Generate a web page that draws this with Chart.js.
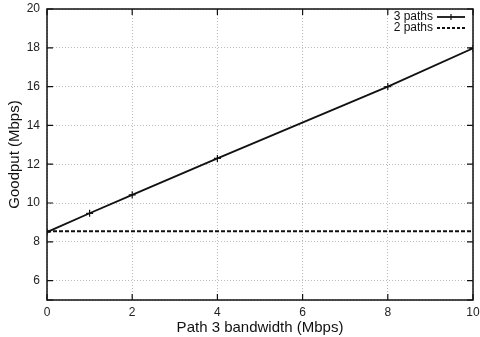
<!DOCTYPE html>
<html>
<head>
<meta charset="utf-8">
<script src="https://cdn.jsdelivr.net/npm/chart.js@4/dist/chart.umd.min.js"></script>
<style>
  html, body { margin: 0; padding: 0; background: #fff; }
  #wrap { width: 480px; height: 337px; }
</style>
</head>
<body>
<div id="wrap"><canvas id="goodput"></canvas></div>
<script>
// data
var bandwidth = [0, 1, 2, 4, 8, 10];
var threePaths = [8.5, 9.47, 10.42, 12.3, 16.0, 17.97];
var twoPathsX = [0, 10];
var twoPaths = [8.55, 8.55];
var xTicks = [0, 2, 4, 6, 8, 10];
var yTicks = [5, 6, 8, 10, 12, 14, 16, 18, 20];

var FONT = "'Liberation Sans', Arial, sans-serif";

// gnuplot style frame, inside tick marks and legend box
var framePlugin = {
  id: 'frame',
  afterDraw: function(chart) {
    var ctx = chart.ctx;
    var a = chart.chartArea;
    var xs = chart.scales.x, ys = chart.scales.y;
    ctx.save();
    ctx.strokeStyle = '#111';
    ctx.lineWidth = 1.5;
    ctx.strokeRect(a.left, a.top, a.right - a.left, a.bottom - a.top);
    ctx.lineWidth = 1.2;
    ctx.beginPath();
    xTicks.forEach(function(v) {
      var px = xs.getPixelForValue(v);
      ctx.moveTo(px, a.bottom); ctx.lineTo(px, a.bottom - 6);
      ctx.moveTo(px, a.top); ctx.lineTo(px, a.top + 6);
    });
    yTicks.forEach(function(v) {
      var py = ys.getPixelForValue(v);
      ctx.moveTo(a.left, py); ctx.lineTo(a.left + 6, py);
      ctx.moveTo(a.right, py); ctx.lineTo(a.right - 6, py);
    });
    ctx.stroke();

    // legend
    ctx.font = '12px ' + FONT;
    ctx.fillStyle = '#111';
    ctx.textAlign = 'right';
    ctx.textBaseline = 'middle';
    var items = [
      { label: '3 paths', y: 17, dash: [], mark: true },
      { label: '2 paths', y: 28, dash: [3, 2], mark: false }
    ];
    items.forEach(function(it) {
      ctx.fillText(it.label, 433, it.y);
      ctx.setLineDash(it.dash);
      ctx.lineWidth = 1.8;
      ctx.beginPath();
      ctx.moveTo(437, it.y); ctx.lineTo(465, it.y);
      ctx.stroke();
      ctx.setLineDash([]);
      if (it.mark) {
        ctx.lineWidth = 1.2;
        ctx.beginPath();
        ctx.moveTo(451, it.y - 3); ctx.lineTo(451, it.y + 3);
        ctx.stroke();
      }
    });
    ctx.restore();
  }
};

var chart = new Chart(document.getElementById('goodput'), {
  type: 'line',
  data: {
    datasets: [
      {
        label: '3 paths',
        data: bandwidth.map(function(x, i) { return { x: x, y: threePaths[i] }; }),
        borderColor: '#111',
        borderWidth: 1.8,
        pointStyle: 'cross',
        pointRadius: 3.5,
        pointBorderWidth: 1.2,
        pointBorderColor: '#111',
        fill: false,
        tension: 0
      },
      {
        label: '2 paths',
        data: twoPathsX.map(function(x, i) { return { x: x, y: twoPaths[i] }; }),
        borderColor: '#111',
        borderWidth: 2,
        borderDash: [4, 2],
        pointRadius: 0,
        fill: false
      }
    ]
  },
  options: {
    responsive: true,
    maintainAspectRatio: false,
    animation: false,
    layout: { padding: { top: 9, right: 7, left: 0, bottom: 0 } },
    plugins: {
      legend: { display: false },
      tooltip: { enabled: false }
    },
    scales: {
      x: {
        type: 'linear',
        min: 0, max: 10,
        afterBuildTicks: function(s) { s.ticks = xTicks.map(function(v) { return { value: v }; }); },
        afterFit: function(s) { s.height = 37; s.paddingLeft = 0; s.paddingRight = 0; },
        ticks: { color: '#222', font: { size: 12, family: FONT }, padding: 5, maxRotation: 0 },
        grid: { color: '#bbb', lineWidth: 1, drawTicks: false },
        border: { display: false, dash: [1, 2] },
        title: { display: true, text: 'Path 3 bandwidth (Mbps)', color: '#111', font: { size: 15, family: FONT }, padding: { top: 2, bottom: 0 } }
      },
      y: {
        min: 5, max: 20,
        afterBuildTicks: function(s) { s.ticks = yTicks.map(function(v) { return { value: v }; }); },
        afterFit: function(s) { s.width = 47; s.paddingTop = 0; s.paddingBottom = 0; },
        ticks: {
          color: '#222', font: { size: 12, family: FONT }, padding: 7,
          callback: function(v) { return v === 5 ? '' : v; }
        },
        grid: { color: '#bbb', lineWidth: 1, drawTicks: false },
        border: { display: false, dash: [1, 2] },
        title: { display: true, text: 'Goodput (Mbps)', color: '#111', font: { size: 15, family: FONT }, padding: { top: 6, bottom: 2 } }
      }
    }
  },
  plugins: [framePlugin]
});
</script>
</body>
</html>
